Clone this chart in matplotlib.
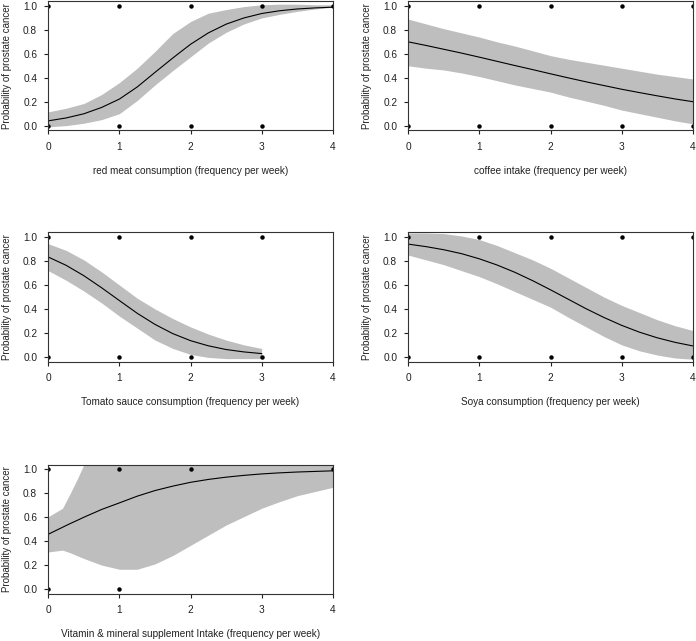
#!/usr/bin/env python3

import matplotlib
matplotlib.use("Agg")
import matplotlib.pyplot as plt

plt.rcParams["font.family"] = ["Liberation Sans", "DejaVu Sans"]

# x grid used for the fitted curves / bands (frequency per week)
grid = [0, 0.25, 0.5, 0.75, 1.0, 1.25, 1.5, 1.75, 2.0, 2.25, 2.5, 2.75, 3.0, 3.25, 3.5, 3.75, 4.0]

# red meat
meat_fit = [0.040, 0.064, 0.099, 0.152, 0.222, 0.323, 0.445, 0.565, 0.680, 0.775, 0.848, 0.900, 0.937, 0.960, 0.975, 0.984, 0.990]
meat_upper = [0.115, 0.145, 0.185, 0.26, 0.36, 0.48, 0.62, 0.77, 0.87, 0.94, 0.97, 0.995, 1.01, 1.015, 1.015, 1.01, 1.01]
meat_lower = [-0.01, 0.0, 0.02, 0.05, 0.10, 0.21, 0.34, 0.46, 0.575, 0.69, 0.78, 0.85, 0.90, 0.93, 0.955, 0.975, 0.99]
meat_pts_x = [0, 1, 2, 3, 4, 0, 1, 2, 3]
meat_pts_y = [1, 1, 1, 1, 1, 0, 0, 0, 0]

# coffee
coffee_fit = [0.700, 0.670, 0.638, 0.606, 0.572, 0.537, 0.502, 0.468, 0.433, 0.399, 0.366, 0.335, 0.304, 0.276, 0.249, 0.223, 0.200]
coffee_upper = [0.89, 0.85, 0.81, 0.775, 0.74, 0.70, 0.665, 0.625, 0.585, 0.555, 0.53, 0.505, 0.48, 0.455, 0.43, 0.41, 0.39]
coffee_lower = [0.50, 0.48, 0.465, 0.44, 0.41, 0.375, 0.34, 0.31, 0.28, 0.24, 0.205, 0.17, 0.13, 0.10, 0.07, 0.04, 0.015]
coffee_pts_x = [0, 1, 2, 3, 4, 0, 1, 2, 3, 4]
coffee_pts_y = [1, 1, 1, 1, 1, 0, 0, 0, 0, 0]

# tomato sauce (only observed up to 3)
tomato_grid = [0, 0.25, 0.5, 0.75, 1.0, 1.25, 1.5, 1.75, 2.0, 2.25, 2.5, 2.75, 3.0]
tomato_fit = [0.834, 0.765, 0.678, 0.577, 0.470, 0.364, 0.271, 0.194, 0.135, 0.092, 0.061, 0.041, 0.027]
tomato_upper = [0.945, 0.89, 0.81, 0.71, 0.60, 0.49, 0.40, 0.32, 0.25, 0.19, 0.14, 0.10, 0.07]
tomato_lower = [0.72, 0.64, 0.55, 0.45, 0.34, 0.24, 0.14, 0.07, 0.02, -0.005, -0.015, -0.015, -0.015]
tomato_pts_x = [0, 1, 2, 3, 0, 1, 2, 3]
tomato_pts_y = [1, 1, 1, 1, 0, 0, 0, 0]

# soya
soya_fit = [0.942, 0.921, 0.895, 0.862, 0.819, 0.767, 0.706, 0.636, 0.560, 0.481, 0.402, 0.329, 0.263, 0.206, 0.159, 0.121, 0.091]
soya_upper = [1.035, 1.035, 1.03, 1.01, 0.98, 0.93, 0.87, 0.81, 0.74, 0.66, 0.58, 0.50, 0.43, 0.37, 0.31, 0.26, 0.22]
soya_lower = [0.85, 0.81, 0.77, 0.72, 0.67, 0.61, 0.545, 0.48, 0.415, 0.33, 0.25, 0.17, 0.10, 0.05, 0.015, -0.01, -0.02]
soya_pts_x = [0, 1, 2, 3, 4, 0, 1, 2, 3, 4]
soya_pts_y = [1, 1, 1, 1, 1, 0, 0, 0, 0, 0]

# vitamin & mineral supplement
vit_grid = [0, 0.2, 0.3, 0.4, 0.5, 0.75, 1.0, 1.25, 1.5, 1.75, 2.0, 2.25, 2.5, 2.75, 3.0, 3.25, 3.5, 3.75, 4.0]
vit_fit = [0.458, 0.516, 0.545, 0.572, 0.600, 0.665, 0.720, 0.776, 0.823, 0.860, 0.892, 0.916, 0.935, 0.950, 0.962, 0.971, 0.978, 0.983, 0.988]
vit_upper = [0.605, 0.675, 0.79, 0.91, 1.04, 1.15, 1.25, 1.28, 1.27, 1.24, 1.20, 1.17, 1.14, 1.12, 1.10, 1.09, 1.08, 1.07, 1.06]
vit_lower = [0.31, 0.325, 0.305, 0.28, 0.255, 0.20, 0.165, 0.165, 0.21, 0.28, 0.365, 0.45, 0.535, 0.605, 0.675, 0.73, 0.78, 0.815, 0.85]
vit_pts_x = [0, 1, 2, 4, 0, 1]
vit_pts_y = [1, 1, 1, 1, 0, 0]

xlabels = [
    "red meat consumption (frequency per week)",
    "coffee intake (frequency per week)",
    "Tomato sauce consumption (frequency per week)",
    "Soya consumption (frequency per week)",
    "Vitamin & mineral supplement Intake (frequency per week)",
]
ylabel = "Probability of prostate cancer"
xticks = [0, 1, 2, 3, 4]
yticks = [0.0, 0.2, 0.4, 0.6, 0.8, 1.0]
ytick_labels = ["0.0", "0.2", "0.4", "0.6", "0.8", "1.0"]


def draw_panel(ax, xs, fit, lower, upper, pts_x, pts_y, xlabel):
    ax.fill_between(xs, lower, upper, color="#bebebe", linewidth=0)
    ax.plot(xs, fit, color="black", linewidth=0.8)
    ax.plot(pts_x, pts_y, "o", color="black", markersize=3.2, markeredgewidth=0)
    ax.set_xlim(0, 4)
    ax.set_ylim(-0.04, 1.04)
    ax.set_xticks(xticks)
    ax.set_yticks(yticks)
    ax.set_yticklabels(ytick_labels)
    ax.tick_params(direction="out", length=3, width=0.8, labelsize=7.3, colors="#222222", pad=5)
    for spine in ax.spines.values():
        spine.set_linewidth(0.8)
        spine.set_color("#333333")
    ax.set_xlabel(xlabel, fontsize=7.2, color="#222222")
    ax.xaxis.label.set_va("center")
    ax.xaxis.set_label_coords(0.5, -0.313)
    ax.set_ylabel(ylabel, fontsize=7, color="#222222")
    ax.yaxis.label.set_va("center")
    ax.yaxis.set_label_coords(-0.146, 0.5)


def main():
    fig = plt.figure(figsize=(6.96, 6.41), dpi=100)

    width = 284.5 / 696
    height = 129.2 / 641
    lefts = [48.3 / 696, 408.3 / 696]
    bottoms = [1 - 130.4 / 641, 1 - 361.6 / 641, 1 - 593.8 / 641]

    ax1 = fig.add_axes([lefts[0], bottoms[0], width, height])
    ax2 = fig.add_axes([lefts[1], bottoms[0], width, height])
    ax3 = fig.add_axes([lefts[0], bottoms[1], width, height])
    ax4 = fig.add_axes([lefts[1], bottoms[1], width, height])
    ax5 = fig.add_axes([lefts[0], bottoms[2], width, height])

    draw_panel(ax1, grid, meat_fit, meat_lower, meat_upper, meat_pts_x, meat_pts_y, xlabels[0])
    draw_panel(ax2, grid, coffee_fit, coffee_lower, coffee_upper, coffee_pts_x, coffee_pts_y, xlabels[1])
    draw_panel(ax3, tomato_grid, tomato_fit, tomato_lower, tomato_upper, tomato_pts_x, tomato_pts_y, xlabels[2])
    draw_panel(ax4, grid, soya_fit, soya_lower, soya_upper, soya_pts_x, soya_pts_y, xlabels[3])
    draw_panel(ax5, vit_grid, vit_fit, vit_lower, vit_upper, vit_pts_x, vit_pts_y, xlabels[4])

    fig.savefig("out.png", dpi=100)


if __name__ == "__main__":
    main()
